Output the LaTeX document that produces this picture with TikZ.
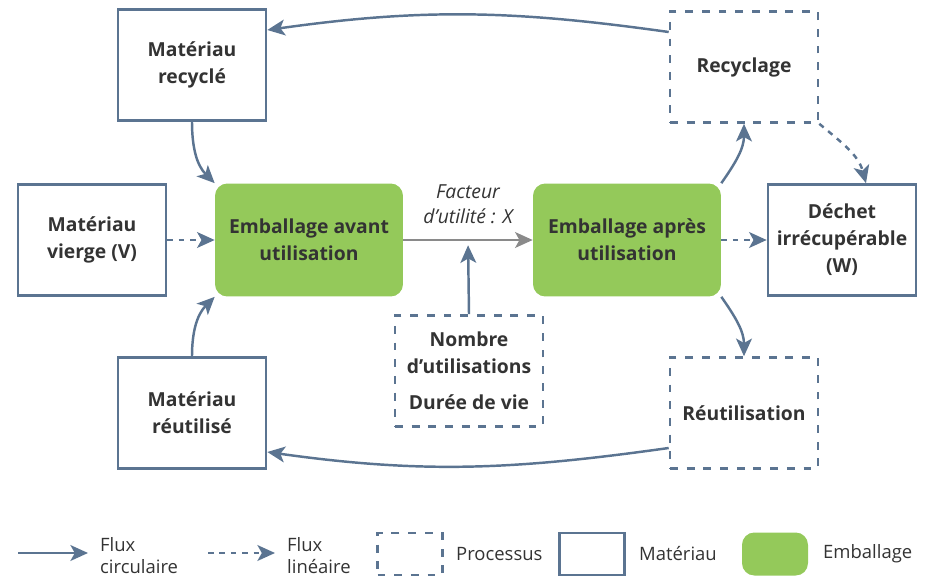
\documentclass[tikz,border=0pt]{standalone}
\usepackage{fontspec}
\setmainfont{Open Sans}
\usepackage{xcolor}
\usetikzlibrary{arrows.meta,positioning}

\definecolor{bordure}{HTML}{5B7491}
\definecolor{vert}{HTML}{94C95A}
\definecolor{texte}{HTML}{333333}
\definecolor{gris}{HTML}{8A8A8A}

\begin{document}
\begin{tikzpicture}[x=0.02cm,y=0.02cm,
  materiau/.style={draw=bordure,line width=1.5pt,minimum width=2.96cm,minimum height=2.22cm,
    align=center,font=\bfseries\fontsize{11}{15.3}\selectfont,text=texte},
  processus/.style={materiau,dash pattern=on 4.5pt off 5pt},
  emballage/.style={fill=vert,rounded corners=7pt,minimum width=3.76cm,minimum height=2.26cm,
    align=center,font=\bfseries\fontsize{11}{15.3}\selectfont,text=texte},
  circ/.style={draw=bordure,line width=1.4pt,-{Stealth[length=10pt,width=9pt,inset=2.5pt]}},
  lin/.style={circ,dash pattern=on 3.2pt off 3.3pt},
  legende/.style={align=left,font=\fontsize{10.5}{12.5}\selectfont,text=texte,anchor=west}]

\useasboundingbox (0,0) rectangle (940,576);

% Materiaux et processus
\node[materiau] (mrec) at (192,511) {Matériau\\recyclé};
\node[processus] (recy) at (744,509) {Recyclage};
\node[materiau] (mvie) at (92,336) {Matériau\\vierge (V)};
\node[materiau] (dech) at (842,336) {Déchet\\irrécupérable\\(W)};
\node[processus] (nomb) at (469,205) {Nombre\\d’utilisations\\[5pt]Durée de vie};
\node[materiau] (mreu) at (192,163) {Matériau\\réutilisé};
\node[processus] (reut) at (744,163) {Réutilisation};

% Emballages
\node[emballage] (eav) at (309,336) {Emballage avant\\utilisation};
\node[emballage] (eap) at (627,336) {Emballage après\\utilisation};

%-------------------------------------------------
% Flux
%-------------------------------------------------

\draw[circ] ([yshift=0.7cm]recy.west) to[out=172,in=8] ([yshift=0.7cm]mrec.east);
\draw[circ] (mrec.south) to[out=-90,in=135] (eav.north west);
\draw[lin] (mvie.east) -- (eav.west);
\draw[draw=gris,line width=1.4pt,-{Stealth[length=10pt,width=9pt,inset=2.5pt]}] (eav.east) -- (eap.west)
  coordinate[midway] (mil)
  node[midway,above=5pt,font=\itshape\fontsize{11}{14.5}\selectfont,text=texte,align=center] {Facteur\\d’utilité : X};
\draw[circ,shorten >=3pt] (nomb.north) -- (mil);
\draw[circ] (eap.north east) to[out=55,in=-90] (recy.south);
\draw[lin] (recy.south east) to[out=-40,in=105] ([xshift=0.48cm]dech.north);
\draw[lin] (eap.east) -- (dech.west);
\draw[circ] (eap.south east) to[out=-55,in=90] (reut.north);
\draw[circ] ([yshift=-0.7cm]reut.west) to[out=188,in=-8] ([yshift=-0.78cm]mreu.east);
\draw[circ] (mreu.north) to[out=90,in=-135] (eav.south west);

%-------------------------------------------------
% Legende
%-------------------------------------------------

\coordinate (c1) at (18,23);
\coordinate (c2) at (88,23);
\draw[circ] (c1) -- (c2);
\node[legende] (lc) at (94,20) {Flux\\circulaire};

\coordinate (l1) at (208,23);
\coordinate (l2) at (275,23);
\draw[lin] (l1) -- (l2);
\node[legende] (ll) at (281,20) {Flux\\linéaire};

\node[processus,minimum width=1.3cm,minimum height=0.84cm] (bp) at (410,22) {};
\node[legende] (lp) at (450,22) {Processus};

\node[materiau,minimum width=1.3cm,minimum height=0.84cm] (bm) at (592,22) {};
\node[legende] (lm) at (633,22) {Matériau};

\node[emballage,minimum width=1.32cm,minimum height=0.86cm] (be) at (775,22) {};
\node[legende] (le) at (817,22) {Emballage};

\end{tikzpicture}
\end{document}
